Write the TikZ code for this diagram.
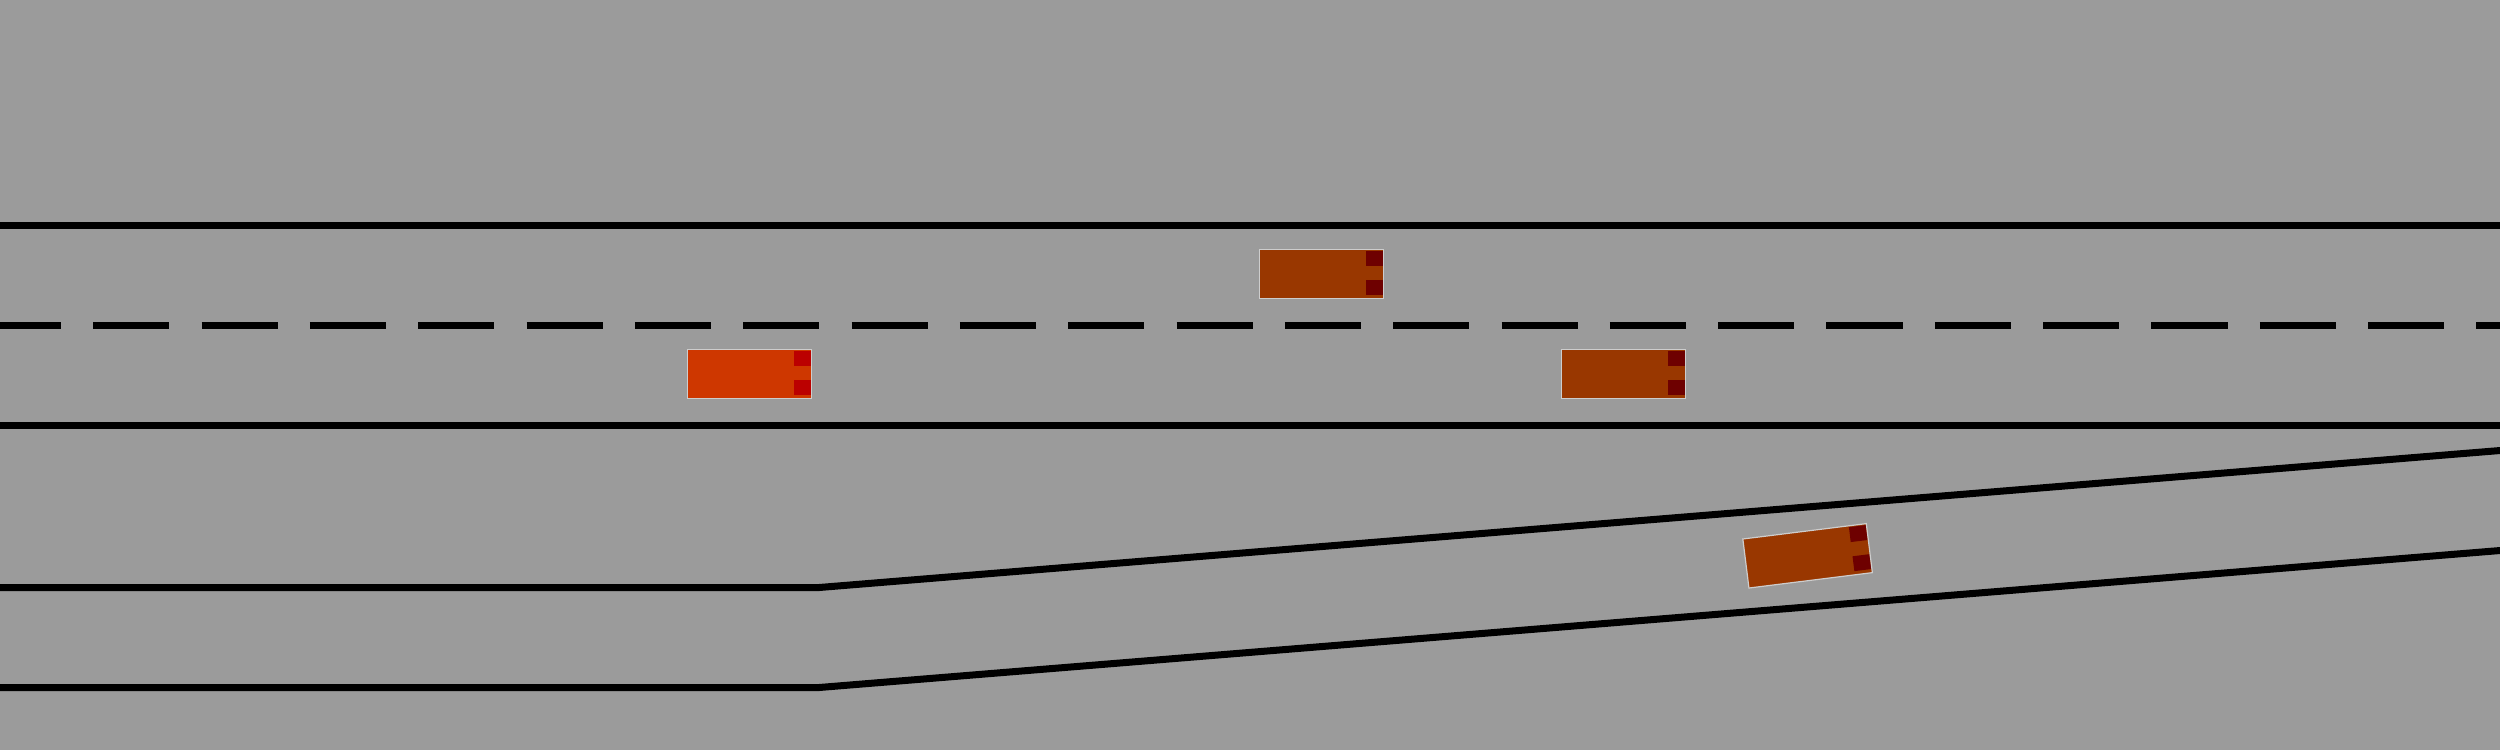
\documentclass[tikz,border=0pt]{standalone}
\definecolor{roadgray}{RGB}{155,155,155}
\definecolor{egored}{RGB}{206,55,0}
\definecolor{egolight}{RGB}{187,0,0}
\definecolor{carbrown}{RGB}{153,55,0}
\definecolor{carlight}{RGB}{110,0,0}
\definecolor{carrim}{RGB}{205,205,205}
\tikzset{
  roadline/.style={line width=0.07cm, black},
  laneline/.style={line width=0.07cm, black, dash pattern=on 0.76cm off 0.3226cm, dash phase=0.15cm},
  carbody/.style={draw=carrim, line width=0.012cm},
}
% \carpic{cx}{cy}{angle}{body}{light}
\newcommand{\carpic}[5]{%
  \begin{scope}[shift={(#1,#2)}, rotate=#3]
    \fill[#4] (-62.2,-24.7) rectangle (62.2,24.7);
    \fill[#5] (44.5,-23.3) rectangle (61.5,-8.3);
    \fill[#5] (44.5,6) rectangle (61.5,21);
    \draw[carbody] (-62.2,-24.7) rectangle (62.2,24.7);
  \end{scope}}
\begin{document}
\begin{tikzpicture}[x=0.01cm, y=-0.01cm]
  \fill[roadgray] (0,0) rectangle (2500,750);
  \useasboundingbox (0,0) rectangle (2500,750);
  % main road
  \coordinate (tl) at (0,225.5);
  \coordinate (tr) at (2500,225.5);
  \coordinate (ml) at (0,325.5);
  \coordinate (mr) at (2500,325.5);
  \coordinate (bl) at (0,425.5);
  \coordinate (br) at (2500,425.5);
  \draw[roadline] (tl) -- (tr);
  \draw[laneline] (ml) -- (mr);
  \draw[roadline] (bl) -- (br);
  % merging lane
  \coordinate (a1) at (0,587.5);
  \coordinate (a2) at (819,587.5);
  \coordinate (a3) at (2500,450.5);
  \coordinate (b1) at (0,687.5);
  \coordinate (b2) at (819,687.5);
  \coordinate (b3) at (2500,550.5);
  \draw[roadline] (a1) -- (a2) -- (a3);
  \draw[roadline] (b1) -- (b2) -- (b3);
  % vehicles
  \carpic{749.5}{374}{0}{egored}{egolight}
  \carpic{1321.5}{274}{0}{carbrown}{carlight}
  \carpic{1623.5}{374}{0}{carbrown}{carlight}
  \carpic{1807.6}{555.8}{7.1}{carbrown}{carlight}
\end{tikzpicture}
\end{document}
